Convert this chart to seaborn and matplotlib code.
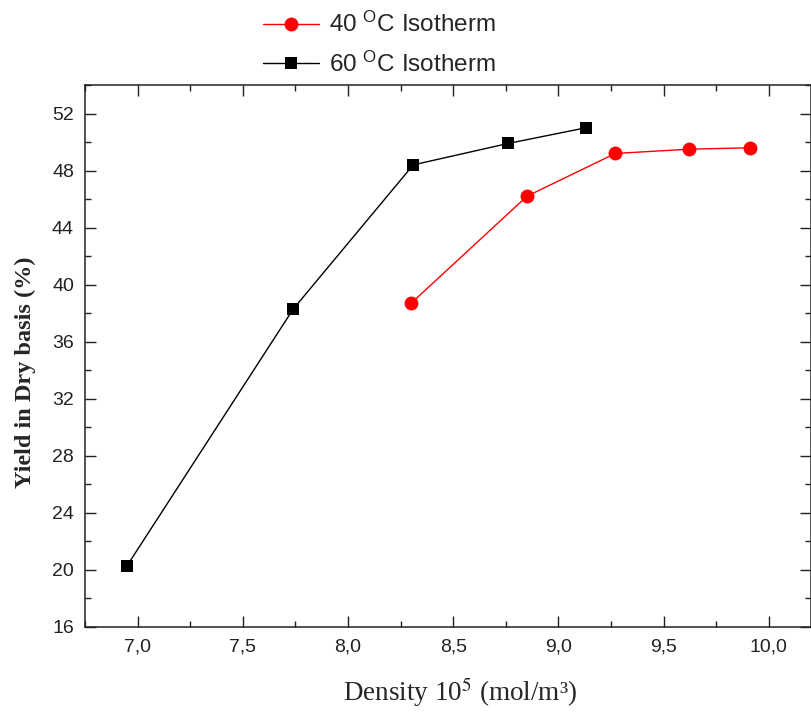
import matplotlib
matplotlib.use("Agg")
import matplotlib.pyplot as plt
from matplotlib.ticker import MultipleLocator, FuncFormatter
import seaborn as sns
import pandas as pd

# ─── Data ─────────────────────────────────────────────────────────────────────
density_40 = [8.30, 8.85, 9.27, 9.62, 9.91]
yield_40   = [38.7, 46.2, 49.2, 49.5, 49.6]

density_60 = [6.95, 7.74, 8.31, 8.76, 9.13]
yield_60   = [20.3, 38.3, 48.4, 49.9, 51.0]

labels = [r"40 $^{\rm O}$C Isotherm", r"60 $^{\rm O}$C Isotherm"]

df = pd.concat([
    pd.DataFrame({"density": density_40, "yield": yield_40, "series": labels[0]}),
    pd.DataFrame({"density": density_60, "yield": yield_60, "series": labels[1]}),
], ignore_index=True)

# ─── Style ────────────────────────────────────────────────────────────────────
sns.set_style("ticks")
plt.rcParams["font.family"] = ["Liberation Sans", "DejaVu Sans"]
plt.rcParams["mathtext.fontset"] = "custom"
plt.rcParams["mathtext.rm"] = "Liberation Sans"
plt.rcParams["mathtext.it"] = "Liberation Sans:italic"
plt.rcParams["mathtext.bf"] = "Liberation Sans:bold"

fig = plt.figure(figsize=(8.12, 7.12), dpi=100)
ax = fig.add_axes([0.1047, 0.1194, 0.894, 0.7612])

sns.lineplot(data=df, x="density", y="yield", hue="series", style="series",
             palette={labels[0]: "#ff0000", labels[1]: "#000000"},
             markers={labels[0]: "o", labels[1]: "s"},
             dashes=False, sort=False, linewidth=1.0, markeredgewidth=0,
             ax=ax, legend=False)
for line, ms in zip(ax.get_lines(), [10, 9]):
    line.set_markersize(ms)

ax.set_xlim(6.75, 10.2)
ax.set_ylim(16, 54)
ax.xaxis.set_major_locator(MultipleLocator(0.5))
ax.xaxis.set_minor_locator(MultipleLocator(0.25))
ax.yaxis.set_major_locator(MultipleLocator(4))
ax.yaxis.set_minor_locator(MultipleLocator(2))
ax.xaxis.set_major_formatter(FuncFormatter(lambda v, p: f"{v:.1f}".replace(".", ",")))
ax.yaxis.set_major_formatter(FuncFormatter(lambda v, p: f"{v:.0f}"))

for s in ax.spines.values():
    s.set_linewidth(1.1)
    s.set_color("#222222")
ax.tick_params(which="both", direction="in", top=True, right=True,
               color="#222222", width=1.0, labelsize=14, labelcolor="#222222")
ax.tick_params(which="major", length=8, pad=8)
ax.tick_params(which="minor", length=4)

ax.set_xlabel(r"Density 10$^{5}$ (mol/m³)", fontsize=19.5,
              family="Liberation Serif", math_fontfamily="stix", va="center")
ax.set_ylabel("Yield in Dry basis (%)", fontsize=17.5, fontweight="bold",
              family="Liberation Serif", va="center")
ax.xaxis.set_label_coords(0.517, -0.12)
ax.yaxis.set_label_coords(-0.082, 0.47)

# ─── Legend above the axes ────────────────────────────────────────────────────
handles = ax.get_lines()[:2]
fig.legend(handles, labels, loc="center left",
           bbox_to_anchor=(263 / 812, 1 - 44.5 / 712),
           frameon=False, fontsize=17.5, handlelength=2.3, handletextpad=0.4,
           labelspacing=0.6, borderpad=0, borderaxespad=0)

plt.savefig("out.png", dpi=100)
plt.close(fig)
